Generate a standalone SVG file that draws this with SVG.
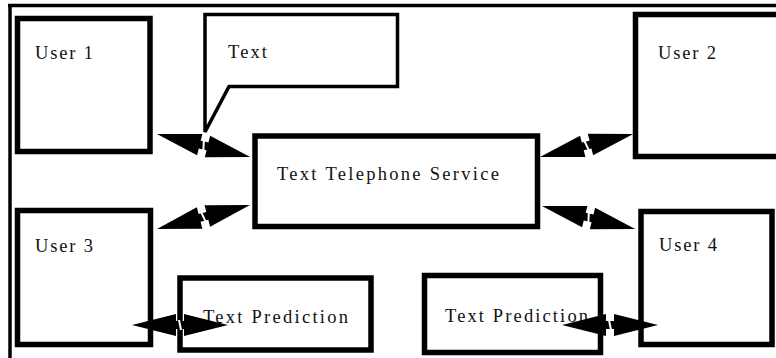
<svg xmlns="http://www.w3.org/2000/svg" width="776" height="358" viewBox="0 0 776 358">
<style>
.box{fill:#fff;stroke:#000;stroke-width:5.5}
.call{fill:#fff;stroke:#000;stroke-width:3.5;stroke-linejoin:miter}
.frame{stroke:#000;stroke-width:3.5;fill:none}
.lbl{font-family:"Liberation Serif","Times New Roman",serif;font-size:18.5px;fill:#111}
</style>
<defs>
<g id="dbl">
<polygon points="0,0 44,-11 44,11" fill="#000"/>
<polygon points="96,0 52,-11 52,11" fill="#000"/>
<rect x="43" y="-4" width="10" height="8" fill="#000"/>
<line x1="47" y1="-5" x2="49" y2="5" stroke="#fff" stroke-width="2"/>
</g>
</defs>
<rect x="0" y="0" width="776" height="358" fill="#fff"/>
<g id="frame">
<line class="frame" x1="8" y1="5.5" x2="776" y2="5.5"/>
<line class="frame" x1="10" y1="4" x2="10" y2="358"/>
</g>
<g id="user1">
<rect class="box" x="17.5" y="18.5" width="132.5" height="133"/>
<text class="lbl" x="35" y="59" textLength="58" lengthAdjust="spacing">User 1</text>
</g>
<g id="callout">
<polygon class="call" points="205,14.5 397.5,14.5 397.5,86.5 229,86.5 205,132"/>
<text class="lbl" x="228" y="58" textLength="39" lengthAdjust="spacing">Text</text>
</g>
<g id="user2">
<rect class="box" x="635.5" y="14.5" width="150" height="142"/>
<text class="lbl" x="658" y="59" textLength="58" lengthAdjust="spacing">User 2</text>
</g>
<g id="tts">
<rect class="box" x="255" y="136" width="282.5" height="90.5"/>
<text class="lbl" x="277" y="180" textLength="222" lengthAdjust="spacing">Text Telephone Service</text>
</g>
<g id="user3">
<rect class="box" x="17.5" y="210.5" width="133" height="134"/>
<text class="lbl" x="35" y="252" textLength="58" lengthAdjust="spacing">User 3</text>
</g>
<g id="user4">
<rect class="box" x="641" y="211.5" width="131" height="133"/>
<text class="lbl" x="659" y="251" textLength="58" lengthAdjust="spacing">User 4</text>
</g>
<g id="tp1">
<rect class="box" x="180" y="278" width="191" height="72"/>
<text class="lbl" x="203" y="323" textLength="145" lengthAdjust="spacing">Text Prediction</text>
</g>
<g id="tp2">
<rect class="box" x="424.5" y="275.5" width="176" height="77"/>
<text class="lbl" x="445" y="322" textLength="143" lengthAdjust="spacing">Text Prediction</text>
</g>
<g id="connectors">
<use href="#dbl" transform="translate(157,134) rotate(13.9)"/>
<use href="#dbl" transform="translate(540,157) rotate(-13.9)"/>
<use href="#dbl" transform="translate(157,229) rotate(-14.5)"/>
<use href="#dbl" transform="translate(542,206) rotate(13.9)"/>
<use href="#dbl" transform="translate(132,325)"/>
<use href="#dbl" transform="translate(562,325)"/>
</g>
</svg>
